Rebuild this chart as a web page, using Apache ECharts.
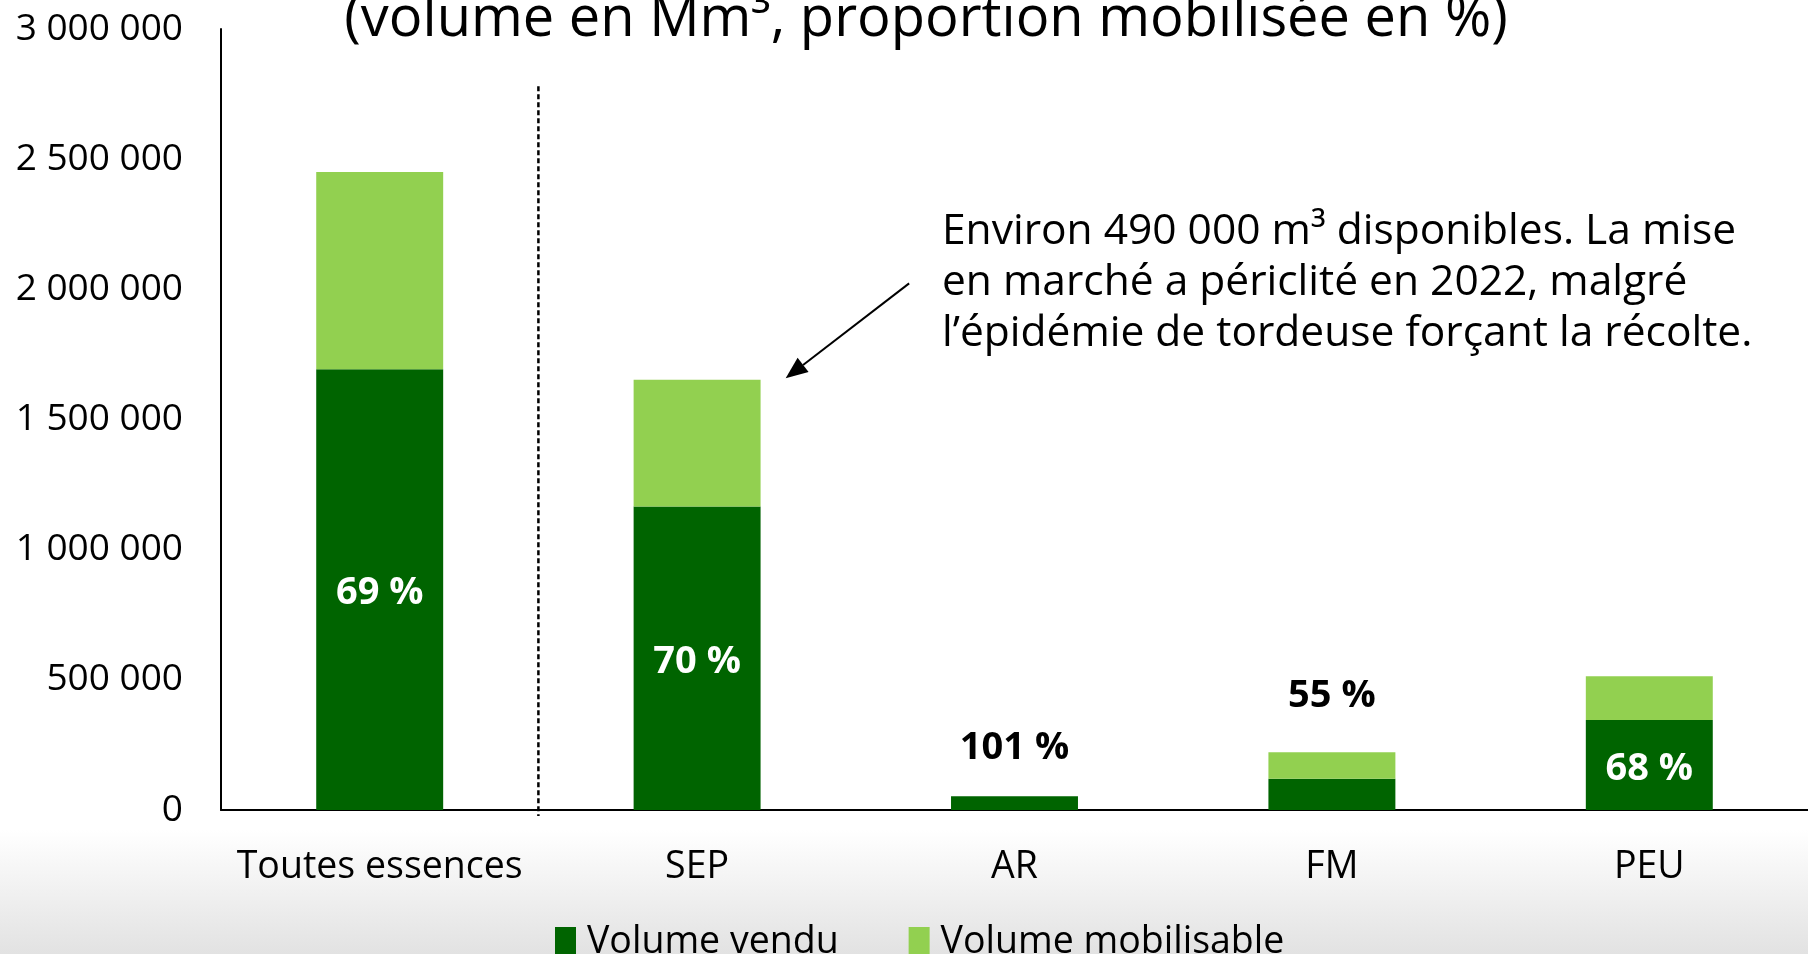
<!DOCTYPE html>
<html>
<head>
<meta charset="utf-8">
<script src="https://cdn.jsdelivr.net/npm/echarts@6/dist/echarts.min.js"></script>
<style>
  html, body { margin: 0; padding: 0; background: #fff; }
  #chart { width: 1808px; height: 954px; }
</style>
</head>
<body>
<div id="chart"></div>
<script>
let categories = ['Toutes essences', 'SEP', 'AR', 'FM', 'PEU'];
let volumeVendu = [1693000, 1166000, 53000, 120000, 346000];
// part of the mobilisable volume that was not sold (top of the stack)
let volumeMobilisable = [758000, 487000, 0, 102000, 168000];
let proportions = ['69 %', '70 %', '101 %', '55 %', '68 %'];
let labelInside = [true, true, false, false, true];

let titleText = '(volume en Mm³, proportion mobilisée en %)';
let noteText = 'Environ 490 000 m³ disponibles. La mise\nen marché a périclité en 2022, malgré\nl’épidémie de tordeuse forçant la récolte.';
// arrow from note to the SEP bar: [category position, value]
let arrowFrom = [1.668, 2023000];
let arrowTo = [1.279, 1658000];
let separatorTop = 2780000;

const FONT = '"Open Sans", "Noto Sans", sans-serif';
const DARK = '#006400';
const LIGHT = '#92D050';

function spaced(v) {
    return String(v).replace(/\B(?=(\d{3})+(?!\d))/g, ' ');
}

let vendu = volumeVendu.map(function (v, i) {
    let item = { value: v };
    if (labelInside[i]) {
        item.label = { show: true, position: 'inside', offset: [0, 4], formatter: proportions[i], color: '#fff' };
    } else if (volumeMobilisable[i] === 0) {
        item.label = { show: true, position: 'top', distance: 28, formatter: proportions[i], color: '#000' };
    }
    return item;
});
let mobilisable = volumeMobilisable.map(function (v, i) {
    let item = { value: v };
    if (!labelInside[i] && v > 0) {
        item.label = { show: true, position: 'top', distance: 36, formatter: proportions[i], color: '#000' };
    }
    return item;
});

let labelStyle = { fontFamily: FONT, fontWeight: 'bold', fontSize: 38, lineHeight: 40 };

let option = {
    animation: false,
    backgroundColor: {
        type: 'linear', x: 0, y: 0, x2: 0, y2: 1,
        colorStops: [
            { offset: 0, color: '#ffffff' },
            { offset: 0.87, color: '#ffffff' },
            { offset: 1, color: '#e2e2e2' }
        ]
    },
    textStyle: { fontFamily: FONT },
    legend: {
        data: ['Volume vendu', 'Volume mobilisable'],
        left: 550,
        top: 918,
        icon: 'rect',
        itemWidth: 21,
        itemHeight: 30,
        itemGap: 70,
        textStyle: { fontFamily: FONT, fontSize: 37.5, color: '#000', padding: [0, 0, 0, 6] }
    },
    grid: { left: 221, width: 1594, top: 29, bottom: 144, containLabel: false },
    xAxis: {
        type: 'category',
        data: categories,
        axisLine: { lineStyle: { color: '#000', width: 2 } },
        axisTick: { show: false },
        axisLabel: { interval: 0, fontFamily: FONT, fontSize: 37.5, color: '#000', margin: 38 }
    },
    yAxis: {
        type: 'value',
        min: 0,
        max: 3000000,
        interval: 500000,
        axisLine: { show: true, lineStyle: { color: '#000', width: 2 } },
        axisTick: { show: false },
        splitLine: { show: false },
        axisLabel: { fontFamily: FONT, fontSize: 37, color: '#000', margin: 38, formatter: spaced }
    },
    series: [{
        name: 'Volume vendu',
        type: 'bar',
        stack: 'v',
        barWidth: '40%',
        itemStyle: { color: DARK },
        label: labelStyle,
        data: vendu
    }, {
        name: 'Volume mobilisable',
        type: 'bar',
        stack: 'v',
        barWidth: '40%',
        itemStyle: { color: LIGHT },
        label: labelStyle,
        data: mobilisable
    }]
};

let chart = echarts.init(document.getElementById('chart'));
chart.setOption(option);

function px(pos, val) {
    let i0 = Math.floor(pos);
    let x0 = chart.convertToPixel({ xAxisIndex: 0 }, i0);
    let x1 = chart.convertToPixel({ xAxisIndex: 0 }, i0 + 1);
    let x = x0 + (x1 - x0) * (pos - i0);
    let y = chart.convertToPixel({ yAxisIndex: 0 }, val);
    return [x, y];
}

let a0 = px(arrowFrom[0], arrowFrom[1]);
let a1 = px(arrowTo[0], arrowTo[1]);
let dx = a1[0] - a0[0], dy = a1[1] - a0[1];
let len = Math.sqrt(dx * dx + dy * dy);
let ux = dx / len, uy = dy / len;
let headLen = 22, headHalf = 9;
let base = [a1[0] - ux * headLen, a1[1] - uy * headLen];
let head = [
    a1,
    [base[0] - uy * headHalf, base[1] + ux * headHalf],
    [base[0] + uy * headHalf, base[1] - ux * headHalf]
];

let sepTop = px(0.5, separatorTop);
let sepBottom = px(0.5, 0);

chart.setOption({
    graphic: [{
        type: 'text',
        style: {
            text: titleText, x: 926, y: 20, align: 'center', verticalAlign: 'middle',
            font: '56px ' + FONT, fill: '#000'
        }
    }, {
        type: 'text',
        style: {
            text: noteText, x: 942, y: 206, align: 'left', verticalAlign: 'top',
            font: '42.5px ' + FONT, lineHeight: 51, fill: '#000'
        }
    }, {
        type: 'line',
        shape: { x1: a0[0], y1: a0[1], x2: base[0], y2: base[1] },
        style: { stroke: '#000', lineWidth: 2 }
    }, {
        type: 'polygon',
        shape: { points: head },
        style: { fill: '#000' }
    }, {
        type: 'line',
        shape: { x1: sepTop[0], y1: sepTop[1], x2: sepBottom[0], y2: sepBottom[1] + 6 },
        style: { stroke: '#000', lineWidth: 2.5, lineDash: [5, 3] }
    }]
});
</script>
</body>
</html>
